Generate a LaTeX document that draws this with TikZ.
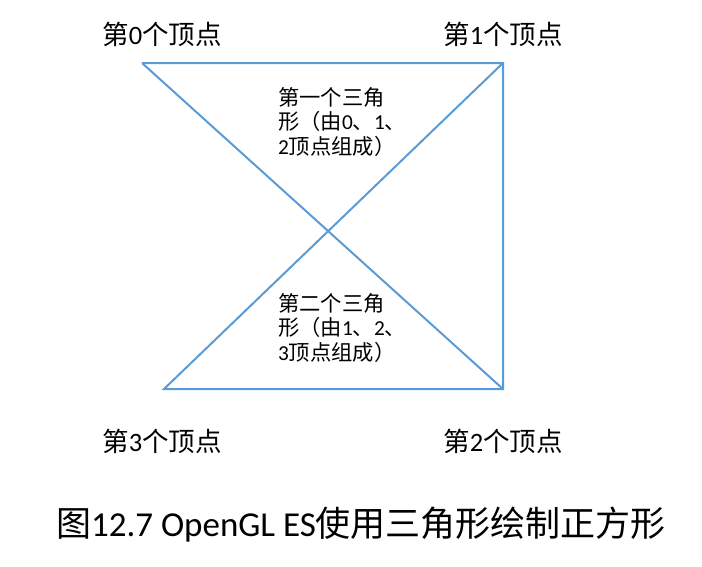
\documentclass[tikz,border=0pt]{standalone}
\usepackage{fontspec}
\setmainfont{Carlito}
\newfontfamily\cjk{Noto Sans CJK SC}
\definecolor{lineblue}{RGB}{91,155,213}
\begin{document}
\begin{tikzpicture}[x=1pt,y=-1pt,
  edge/.style={draw=lineblue,line width=2pt},
  vlabel/.style={inner sep=0pt,font=\fontsize{26.5}{30}\selectfont},
  tlabel/.style={inner sep=0pt,anchor=west,align=left,font=\fontsize{21.3}{24.5}\selectfont},
  caption/.style={inner sep=0pt,font=\fontsize{35}{40}\selectfont}]
\useasboundingbox (0,0) rectangle (702,566);
\coordinate (v0) at (142,63);
\coordinate (v1) at (503,63);
\coordinate (v2) at (503,389);
\coordinate (v3) at (164,389);
\draw[edge] (v0) -- (v1) -- (v2) -- (v3) -- (v1);
\draw[edge] (v0) -- (v2);
\node[vlabel] (l0) at (162,34) {{\cjk 第}0{\cjk 个顶点}};
\node[vlabel] (l1) at (503,34) {{\cjk 第}1{\cjk 个顶点}};
\node[vlabel] (l3) at (162,441) {{\cjk 第}3{\cjk 个顶点}};
\node[vlabel] (l2) at (503,441) {{\cjk 第}2{\cjk 个顶点}};
\node[tlabel] (t1) at (278,122) {{\cjk 第一个三角}\\{\cjk 形（由}0{\cjk 、}1{\cjk 、}\\2{\cjk 顶点组成）}};
\node[tlabel] (t2) at (278,328) {{\cjk 第二个三角}\\{\cjk 形（由}1{\cjk 、}2{\cjk 、}\\3{\cjk 顶点组成）}};
\node[caption] (cap) at (361,525) {{\cjk 图}12.7 OpenGL ES{\cjk 使用三角形绘制正方形}};
\end{tikzpicture}
\end{document}
